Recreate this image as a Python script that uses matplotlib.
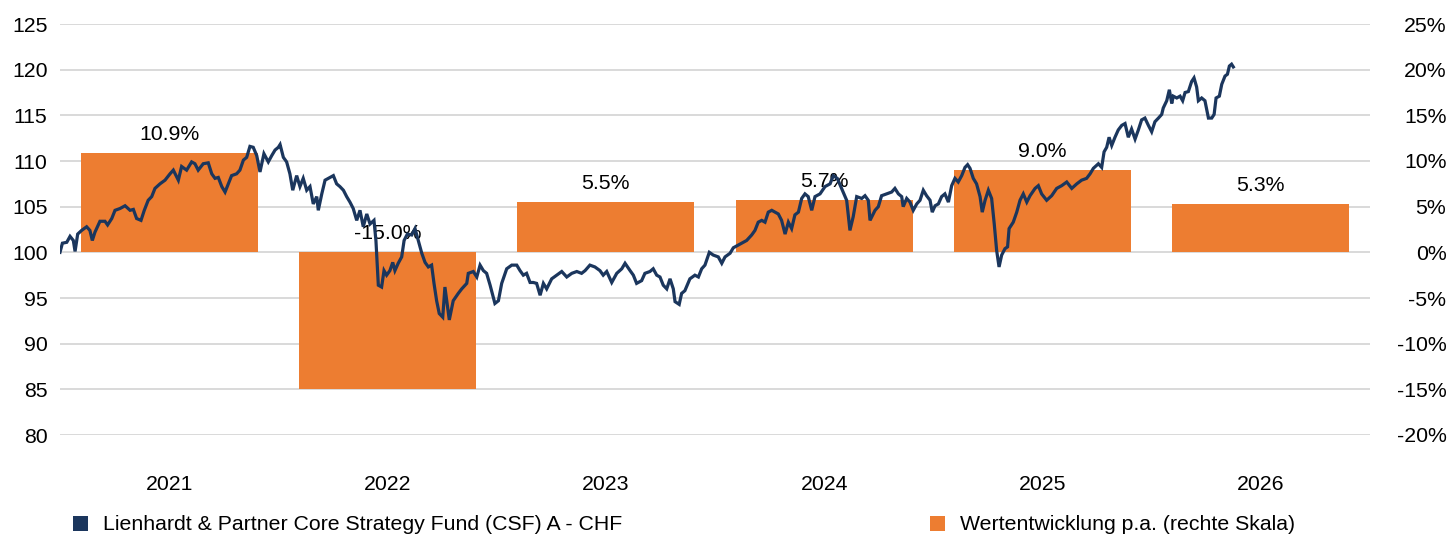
import matplotlib
matplotlib.use("Agg")
import matplotlib.pyplot as plt
from matplotlib.patches import Patch

plt.rcParams['font.family'] = ['Liberation Sans', 'DejaVu Sans']

# ---------------- data ----------------
years = ["2021", "2022", "2023", "2024", "2025", "2026"]
annual_perf = [10.9, -15.0, 5.5, 5.7, 9.0, 5.3]          # % (right axis)
perf_labels = ["10.9%", "-15.0%", "5.5%", "5.7%", "9.0%", "5.3%"]

# fund index (left axis); time given as fractional years since start of 2021
fund_t = [
    0.000, 0.011, 0.031, 0.046, 0.061, 0.069, 0.081, 0.099, 0.122, 0.137, 0.148, 0.160,
    0.183, 0.206, 0.218, 0.237, 0.252, 0.275, 0.298, 0.321, 0.336, 0.351, 0.371, 0.386,
    0.404, 0.420, 0.435, 0.458, 0.481, 0.504, 0.519, 0.542, 0.557, 0.580, 0.603, 0.618,
    0.633, 0.656, 0.679, 0.695, 0.710, 0.725, 0.741, 0.756, 0.771, 0.786, 0.809, 0.824,
    0.840, 0.855, 0.870, 0.885, 0.901, 0.916, 0.934, 0.954, 0.970, 0.985, 1.000, 1.008,
    1.023, 1.038, 1.053, 1.066, 1.084, 1.099, 1.114, 1.130, 1.145, 1.160, 1.176, 1.183,
    1.199, 1.214, 1.237, 1.252, 1.267, 1.282, 1.298, 1.313, 1.328, 1.343, 1.359, 1.374,
    1.389, 1.405, 1.420, 1.438, 1.447, 1.458, 1.473, 1.484, 1.496, 1.511, 1.524, 1.534,
    1.549, 1.565, 1.576, 1.591, 1.611, 1.626, 1.641, 1.657, 1.672, 1.687, 1.702, 1.713,
    1.725, 1.737, 1.753, 1.763, 1.783, 1.801, 1.824, 1.840, 1.863, 1.870, 1.893, 1.909,
    1.924, 1.939, 1.954, 1.970, 1.992, 2.008, 2.023, 2.046, 2.069, 2.092, 2.107, 2.122,
    2.137, 2.153, 2.168, 2.183, 2.199, 2.214, 2.229, 2.252, 2.275, 2.298, 2.321, 2.344,
    2.367, 2.389, 2.405, 2.427, 2.450, 2.473, 2.488, 2.504, 2.527, 2.550, 2.573, 2.588,
    2.611, 2.626, 2.641, 2.664, 2.679, 2.702, 2.717, 2.733, 2.748, 2.763, 2.779, 2.794,
    2.809, 2.817, 2.836, 2.847, 2.862, 2.885, 2.908, 2.924, 2.939, 2.954, 2.974, 2.992,
    3.015, 3.031, 3.046, 3.069, 3.084, 3.107, 3.130, 3.145, 3.168, 3.183, 3.198, 3.214,
    3.229, 3.244, 3.260, 3.275, 3.290, 3.305, 3.321, 3.336, 3.351, 3.366, 3.382, 3.397,
    3.412, 3.427, 3.443, 3.458, 3.481, 3.504, 3.527, 3.542, 3.560, 3.587, 3.603, 3.618,
    3.633, 3.649, 3.672, 3.687, 3.702, 3.710, 3.733, 3.748, 3.763, 3.786, 3.809, 3.824,
    3.840, 3.855, 3.862, 3.878, 3.893, 3.908, 3.924, 3.939, 3.954, 3.969, 3.985, 3.995,
    4.008, 4.023, 4.038, 4.053, 4.069, 4.084, 4.099, 4.114, 4.130, 4.145, 4.157, 4.168,
    4.183, 4.198, 4.214, 4.224, 4.237, 4.252, 4.267, 4.279, 4.290, 4.301, 4.313, 4.328,
    4.340, 4.347, 4.366, 4.382, 4.397, 4.412, 4.428, 4.443, 4.466, 4.481, 4.496, 4.519,
    4.542, 4.565, 4.588, 4.611, 4.634, 4.657, 4.679, 4.702, 4.718, 4.733, 4.756, 4.771,
    4.782, 4.794, 4.805, 4.817, 4.832, 4.847, 4.863, 4.878, 4.893, 4.908, 4.924, 4.939,
    4.954, 4.969, 4.985, 5.000, 5.015, 5.031, 5.046, 5.053, 5.069, 5.081, 5.092, 5.099,
    5.115, 5.130, 5.142, 5.153, 5.168, 5.183, 5.194, 5.206, 5.214, 5.229, 5.244, 5.260,
    5.275, 5.286, 5.295, 5.310, 5.321, 5.336, 5.347, 5.356, 5.366, 5.374,
]
fund_value = [
    100.0, 101.0, 101.1, 101.75, 101.3, 100.1, 102.0, 102.4, 102.8, 102.4, 101.3, 102.2,
    103.4, 103.4, 103.0, 103.7, 104.6, 104.8, 105.1, 104.6, 104.7, 103.7, 103.5, 104.6,
    105.7, 106.1, 107.0, 107.5, 107.9, 108.6, 109.0, 107.9, 109.4, 109.0, 109.9, 109.7,
    109.0, 109.7, 109.8, 108.6, 108.1, 108.2, 107.2, 106.6, 107.5, 108.4, 108.6, 109.0,
    110.1, 110.4, 111.6, 111.5, 110.6, 108.8, 110.8, 109.9, 110.6, 111.2, 111.5, 111.8,
    110.4, 109.9, 108.6, 106.8, 108.4, 107.2, 108.1, 106.8, 107.2, 105.3, 106.1, 104.6,
    106.4, 107.9, 108.2, 108.4, 107.5, 107.2, 106.8, 106.1, 105.5, 104.8, 103.5, 104.6,
    102.8, 104.2, 103.1, 103.5, 101.3, 96.4, 96.2, 98.0, 97.5, 98.0, 98.9, 98.0,
    98.8, 99.5, 101.3, 102.0, 101.9, 102.6, 101.3, 99.9, 98.9, 98.4, 98.6, 96.6,
    94.7, 93.3, 92.9, 96.2, 92.6, 94.7, 95.5, 96.0, 96.6, 97.7, 97.9, 97.3,
    98.6, 98.0, 97.7, 96.4, 94.4, 94.7, 96.6, 98.2, 98.6, 98.6, 98.0, 97.5,
    97.7, 96.7, 96.7, 96.6, 95.3, 96.6, 96.0, 97.1, 97.5, 97.9, 97.3, 97.7,
    97.9, 97.7, 98.0, 98.6, 98.4, 98.0, 97.5, 97.9, 96.7, 97.7, 98.2, 98.8,
    98.0, 97.5, 96.6, 96.9, 97.7, 97.9, 98.2, 97.5, 97.3, 96.4, 96.0, 97.1,
    96.0, 94.6, 94.3, 95.5, 95.8, 97.1, 97.5, 97.3, 98.2, 98.6, 100.0, 99.7,
    99.5, 98.8, 99.5, 99.9, 100.5, 100.8, 101.1, 101.3, 101.9, 102.4, 103.3, 103.5,
    103.3, 104.4, 104.6, 104.4, 104.2, 103.5, 102.0, 103.3, 102.6, 104.1, 104.4, 105.9,
    106.4, 106.1, 104.6, 106.1, 106.4, 107.2, 107.5, 108.4, 108.1, 106.6, 105.7, 102.4,
    103.9, 106.1, 105.9, 106.2, 105.7, 103.5, 104.6, 105.0, 106.2, 106.4, 106.6, 107.0,
    106.4, 106.1, 105.0, 105.9, 105.5, 104.6, 105.3, 105.7, 106.8, 106.2, 105.7, 104.4,
    105.1, 105.3, 106.1, 106.4, 105.5, 107.3, 108.1, 107.7, 108.4, 109.3, 109.6, 109.2,
    108.1, 107.5, 106.1, 104.4, 105.7, 106.8, 105.9, 103.1, 100.2, 98.4, 99.7, 100.4,
    100.6, 102.6, 103.3, 104.4, 105.7, 106.4, 105.5, 106.2, 107.0, 107.3, 106.4, 105.7,
    106.2, 107.0, 107.3, 107.7, 107.0, 107.5, 107.9, 108.1, 108.6, 109.2, 109.7, 109.3,
    111.0, 111.5, 112.6, 111.7, 112.6, 113.4, 113.9, 114.1, 112.6, 113.5, 112.4, 113.4,
    114.5, 114.7, 113.9, 113.2, 114.3, 114.7, 115.1, 115.8, 116.6, 117.8, 116.3, 117.1,
    116.9, 117.1, 116.6, 117.5, 117.6, 118.7, 119.1, 118.1, 116.6, 116.9, 116.6, 114.7,
    114.7, 115.1, 116.9, 117.1, 118.4, 119.3, 119.5, 120.4, 120.6, 120.3,
]

left_ticks = [80, 85, 90, 95, 100, 105, 110, 115, 120, 125]
right_ticks = [-20, -15, -10, -5, 0, 5, 10, 15, 20, 25]

line_name = "Lienhardt & Partner Core Strategy Fund (CSF) A - CHF"
bar_name = "Wertentwicklung p.a. (rechte Skala)"

# ---------------- style ----------------
navy = "#1B365D"
orange = "#ED7D31"
grid_c = "#D9D9D9"
fs = 15.3

fig = plt.figure(figsize=(14.47, 5.38), dpi=100)
ax = fig.add_axes([60 / 1447, (538 - 435) / 538, 1310 / 1447, 411 / 538])
ax2 = ax.twinx()

# bars on the right axis (drawn beneath)
centers = [i + 0.5 for i in range(len(years))]
ax2.bar(centers, annual_perf, width=0.81, color=orange, zorder=2)
for c, v, lab in zip(centers, annual_perf, perf_labels):
    ax2.annotate(lab, xy=(c, max(v, 0)), xytext=(0, 13.5), textcoords="offset points",
                 ha="center", va="center", fontsize=fs, color="#000000", zorder=3)
ax2.set_ylim(-20, 25)
ax2.set_yticks(right_ticks)
ax2.set_yticklabels([f"{t}%" for t in right_ticks])
ax2.yaxis.grid(True, color=grid_c, linewidth=1.4, zorder=0)
ax2.set_axisbelow(True)

# line on the left axis (drawn above)
ax.set_zorder(ax2.get_zorder() + 1)
ax.patch.set_visible(False)
ax.plot(fund_t, fund_value, color=navy, linewidth=2.3, solid_joinstyle="miter", zorder=4)
ax.set_ylim(80, 125)
ax.set_yticks(left_ticks)
ax.set_xlim(0, len(years))
ax.set_xticks(centers)
ax.set_xticklabels(years)

for a in (ax, ax2):
    for s in a.spines.values():
        s.set_visible(False)
    a.tick_params(length=0, labelsize=fs, colors="#000000")

ax.tick_params(axis="y", pad=9)
ax.tick_params(axis="x", pad=29)
ax2.tick_params(axis="y", pad=55)
for lbl in ax2.get_yticklabels():
    lbl.set_horizontalalignment("right")

# legends
h1 = Patch(facecolor=navy, edgecolor="none")
h2 = Patch(facecolor=orange, edgecolor="none")
leg_kw = dict(frameon=False, fontsize=fs, handlelength=0.7, handleheight=0.7,
              handletextpad=0.7, borderpad=0, borderaxespad=0)
fig.legend([h1], [line_name], loc="center left", bbox_to_anchor=(73 / 1447, 1 - 525 / 538), **leg_kw)
fig.legend([h2], [bar_name], loc="center left", bbox_to_anchor=(930 / 1447, 1 - 525 / 538), **leg_kw)

fig.savefig("out.png", dpi=100)
